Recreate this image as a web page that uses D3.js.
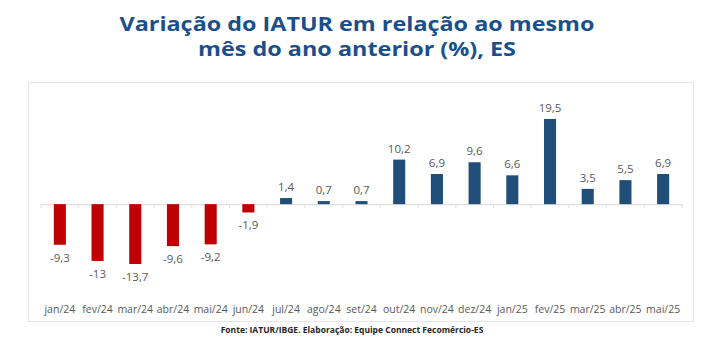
<!DOCTYPE html>
<html><head><meta charset="utf-8">
<script src="https://cdn.jsdelivr.net/npm/d3@7/dist/d3.min.js"></script>
<style>body{margin:0;background:#fff}svg{display:block}</style>
</head><body>
<script>
const categories = ["jan/24","fev/24","mar/24","abr/24","mai/24","jun/24","jul/24","ago/24","set/24","out/24","nov/24","dez/24","jan/25","fev/25","mar/25","abr/25","mai/25"];
const values = [-9.3,-13,-13.7,-9.6,-9.2,-1.9,1.4,0.7,0.7,10.2,6.9,9.6,6.6,19.5,3.5,5.5,6.9];
const valueLabels = ["-9,3","-13","-13,7","-9,6","-9,2","-1,9","1,4","0,7","0,7","10,2","6,9","9,6","6,6","19,5","3,5","5,5","6,9"];
const titleLines = ["Variação do IATUR em relação ao mesmo","mês do ano anterior (%), ES"];
const titleWidths = [475, 318];
const sourceText = "Fonte: IATUR/IBGE. Elaboração: Equipe Connect Fecomércio-ES";

const W = 709, H = 342;
const svg = d3.select("body").append("svg").attr("width", W).attr("height", H);

const title = svg.append("text")
  .attr("text-anchor","middle")
  .attr("font-family","'Open Sans', Lato, sans-serif").attr("font-weight","bold")
  .attr("font-size", 19.5).attr("fill","#1b4f8a");
title.selectAll("tspan").data(titleLines).enter().append("tspan")
  .attr("x", 357).attr("y", (d,i)=>31 + i*25)
  .attr("textLength",(d,i)=>titleWidths[i]).attr("lengthAdjust","spacingAndGlyphs")
  .text(d=>d);

svg.append("rect").attr("x",28.5).attr("y",82.5).attr("width",665).attr("height",239)
  .attr("fill","none").attr("stroke","#e6e6e6").attr("stroke-width",1);

const x = d3.scaleBand().domain(categories).range([41, 682]).paddingInner(0.68).paddingOuter(0.34);
const y = d3.scaleLinear().domain([-13.7, 19.5]).range([264, 119]);

const g = svg.append("g");
const axis = d3.axisBottom(x).tickSize(0).tickFormat("");
g.append("g").attr("transform",`translate(0,${y(0)})`).call(axis)
  .call(s=>s.select(".domain").attr("stroke","#d9d9d9"));
const step = x.step();
const bounds = d3.range(categories.length+1).map(i => 41 + i*step);
g.selectAll("line.tk").data(bounds).enter().append("line")
  .attr("x1",d=>d).attr("x2",d=>d).attr("y1",y(0)).attr("y2",y(0)+4)
  .attr("stroke","#e0e0e0");

g.selectAll("rect.bar").data(values).enter().append("rect")
  .attr("x",(d,i)=>x(categories[i]))
  .attr("width",x.bandwidth())
  .attr("y",d=>y(Math.max(0,d)))
  .attr("height",d=>Math.abs(y(d)-y(0)))
  .attr("fill",d=>d<0?"#c00000":"#1f4e79");

g.selectAll("text.val").data(values).enter().append("text")
  .attr("x",(d,i)=>x(categories[i])+x.bandwidth()/2)
  .attr("y",d=> d<0 ? y(d)+17 : y(d)-7)
  .attr("text-anchor","middle")
  .attr("font-family","'Open Sans', 'Liberation Sans', sans-serif")
  .attr("font-size",11.5).attr("fill","#595959")
  .text((d,i)=>valueLabels[i]);

g.selectAll("text.cat").data(categories).enter().append("text")
  .attr("x",d=>x(d)+x.bandwidth()/2).attr("y",313)
  .attr("text-anchor","middle")
  .attr("font-family","'Open Sans', 'Liberation Sans', sans-serif")
  .attr("font-size",10.5).attr("fill","#595959")
  .text(d=>d);

svg.append("text").attr("x",352).attr("y",333).attr("text-anchor","middle")
  .attr("font-family","'Open Sans', sans-serif").attr("font-weight","bold")
  .attr("font-size",8.5).attr("fill","#262626").text(sourceText);
</script>
</body></html>
